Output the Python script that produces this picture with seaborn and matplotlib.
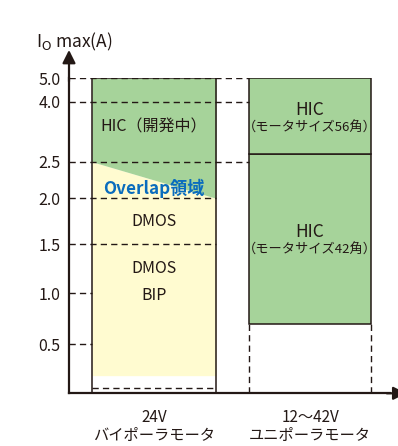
import numpy as np
import matplotlib
matplotlib.use("Agg")
import matplotlib.pyplot as plt
import seaborn as sns

# カテゴリと目盛り
categories = ["24V\nバイポーラモータ", "12～42V\nユニポーラモータ"]
y_ticks = [0.5, 1.0, 1.5, 2.0, 2.5, 4.0, 5.0]
y_tick_labels = ["0.5", "1.0", "1.5", "2.0", "2.5", "4.0", "5.0"]

# 24V側: DMOS/BIP(黄) と HIC開発中(緑) の範囲
box_top = 5.0
bip_bottom = 0.18
overlap_edge = [2.5, 2.0]  # 境界の左端・右端
base_line = 0.05

# 12~42V側: HIC の区間 (下限, 上限)
hic_low = [0.7, 2.7]
hic_high = [2.7, 5.0]

# 模式図なので縦軸は区分線形の目盛り間隔
scale_vals = [0, 0.5, 1.0, 1.5, 2.0, 2.5, 4.0, 5.0]
scale_pos = [0, 49, 100, 149, 195, 231.6, 291.6, 315]

GREEN = "#a6d39a"
YELLOW = "#fffbd0"
DARK = "#231815"
BLUE = "#0a6cbd"

sns.set_theme(style="white")
plt.rcParams["font.family"] = ["Noto Sans CJK JP", "DejaVu Sans"]

fig = plt.figure(figsize=(3.98, 4.46), dpi=100)
ax = fig.add_axes([69 / 398, 52.7 / 446, 321 / 398, 315 / 446])

w0, w1 = 0.797, 0.78
xl0, xr0 = -w0 / 2, w0 / 2
xl1, xr1 = 1 - w1 / 2, 1 + w1 / 2

# 24V側の塗り
ax.fill_between([xl0, xr0], bip_bottom, overlap_edge, color=YELLOW, lw=0, zorder=1)
ax.fill_between([xl0, xr0], overlap_edge, box_top, color=GREEN, lw=0, zorder=1)
sns.barplot(x=[categories[0]], y=[box_top], order=categories, width=w0,
            fill=False, color=DARK, linewidth=1.1, errorbar=None, ax=ax, zorder=3)

# 12~42V側の HIC
for lo, hi in zip(hic_low, hic_high):
    sns.barplot(x=[categories[1]], y=[hi - lo], bottom=lo, order=categories,
                width=w1, color=GREEN, saturation=1, edgecolor=DARK,
                linewidth=1.1, errorbar=None, ax=ax, zorder=2)
ax.vlines([xl1, xr1], 0, hic_low[0], colors=DARK, linestyles=(0, (4.5, 3)), lw=1.0)

# 破線の補助線
x_left = -0.545
dash = (0, (4.5, 3))
for y in y_ticks:
    if y >= 2.5:
        end = xl1
    elif y >= 1.5:
        end = xr0
    else:
        end = xl0
    ax.hlines(y, x_left, end, colors=DARK, linestyles=dash, lw=1.0, zorder=2)
ax.hlines(base_line, xl0, xr0, colors=DARK, linestyles=dash, lw=1.0, zorder=2)

# ラベル
kw = dict(ha="center", va="center", color=DARK, fontsize=11.5, zorder=4)
ax.text(0, 3.38, "HIC（開発中）", **kw)
ax.text(0, 2.13, "Overlap領域", ha="center", va="center", color=BLUE,
        fontsize=12.3, fontweight="bold", zorder=4)
ax.text(0, 1.75, "DMOS", **kw)
ax.text(0, 1.255, "DMOS", **kw)
ax.text(0, 0.98, "BIP", **kw)
ax.text(1, 3.79, "HIC", **{**kw, "fontsize": 12.5})
ax.text(1, 3.335, "（モータサイズ56角）", **{**kw, "fontsize": 9.5})
ax.text(1, 1.634, "HIC", **{**kw, "fontsize": 12.5})
ax.text(1, 1.44, "（モータサイズ42角）", **{**kw, "fontsize": 9.5})

ax.set_yscale("function", functions=(lambda v: np.interp(v, scale_vals, scale_pos),
                                     lambda p: np.interp(p, scale_pos, scale_vals)))
ax.set_ylim(0, 5.0)
ax.set_xlim(x_left, 1.5128)
ax.set_yticks(y_ticks, y_tick_labels)
ax.set_xlabel("")
ax.set_ylabel("")
ax.tick_params(axis="y", length=0, pad=6, labelsize=11.5, labelcolor=DARK)
ax.tick_params(axis="x", length=0, pad=11, labelsize=11, labelcolor=DARK)
for lab in ax.get_xticklabels():
    lab.set_linespacing(1.1)

sns.despine(ax=ax)
for s in ["left", "bottom"]:
    ax.spines[s].set_color(DARK)
    ax.spines[s].set_linewidth(1.6)
    ax.spines[s].set_zorder(5)

arrow = dict(arrowstyle="-|>,head_length=0.6,head_width=0.3", color=DARK, lw=1.6,
             mutation_scale=13, shrinkA=0, shrinkB=0)
ax.annotate("", xy=(0, 1.09), xytext=(0, 0.99), xycoords="axes fraction",
            arrowprops=arrow, annotation_clip=False)
ax.annotate("", xy=(1.051, 0), xytext=(0.99, 0), xycoords="axes fraction",
            arrowprops=arrow, annotation_clip=False)

fig.text(74 / 398, 1 - 42 / 446, r"I$_\mathrm{O}$ max(A)", ha="center", va="center",
         fontsize=12.5, color=DARK)

plt.savefig("out.png", dpi=100)
plt.close()
